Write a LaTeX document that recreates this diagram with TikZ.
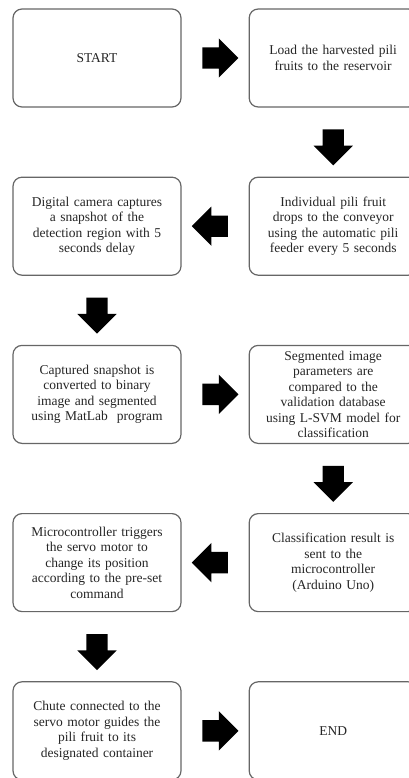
\documentclass[tikz,border=0pt]{standalone}
\usepackage{fontspec}
\setmainfont{Liberation Serif}
\usetikzlibrary{positioning,shapes.arrows}
\tikzset{every node/.style={align=center}, font=\fontsize{13.5}{15.5}\selectfont,
  stepbox/.style={draw=black!60, line width=1.2pt, rounded corners=9pt, fill=white,
    text=black!85, minimum width=168pt, minimum height=98pt, text width=166pt, inner sep=0pt},
  blockarrow/.style={single arrow, fill=black, draw=none, minimum height=36pt,
    inner sep=10.5pt, single arrow head extend=9pt, single arrow tip angle=90},
  rarrow/.style={blockarrow},
  larrow/.style={blockarrow, shape border rotate=180},
  darrow/.style={blockarrow, shape border rotate=270}}

\begin{document}
\begin{tikzpicture}[node distance=69pt and 67pt]
            \useasboundingbox (0,0) rectangle (408pt,-778pt);
            \node [stepbox] (start) at (97pt,-58pt) {START};
            \node [stepbox] (load) [right=of start] {Load the harvested pili\\fruits to the reservoir};
            \node [stepbox] (feeder) [below=of load] {Individual pili fruit\\drops to the conveyor\\using the automatic pili\\feeder every 5 seconds};
            \node [stepbox] (camera) [left=of feeder] {Digital camera captures\\a snapshot of the\\detection region with 5\\seconds delay};
            \node [stepbox] (convert) [below=of camera] {Captured snapshot is\\converted to binary\\image and segmented\\using MatLab\ \ program};
            \node [stepbox] (compare) [right=of convert] {Segmented image\\parameters are\\compared to the\\validation database\\using L-SVM model for\\classification};
            \node [stepbox] (result) [below=of compare] {Classification result is\\sent to the\\microcontroller\\(Arduino Uno)};
            \node [stepbox] (servo) [left=of result] {Microcontroller triggers\\the servo motor to\\change its position\\according to the pre-set\\command};
            \node [stepbox] (chute) [below=of servo] {Chute connected to the\\servo motor guides the\\pili fruit to its\\designated container};
            \node [stepbox] (finish) [right=of chute] {END};

            \path (start) -- node [rarrow] {} (load)
                (load) -- node [darrow] {} (feeder)
                (feeder) -- node [larrow] {} (camera)
                (camera) -- node [darrow] {} (convert)
                (convert) -- node [rarrow] {} (compare)
                (compare) -- node [darrow] {} (result)
                (result) -- node [larrow] {} (servo)
                (servo) -- node [darrow] {} (chute)
                (chute) -- node [rarrow] {} (finish);
        \end{tikzpicture}
\end{document}
